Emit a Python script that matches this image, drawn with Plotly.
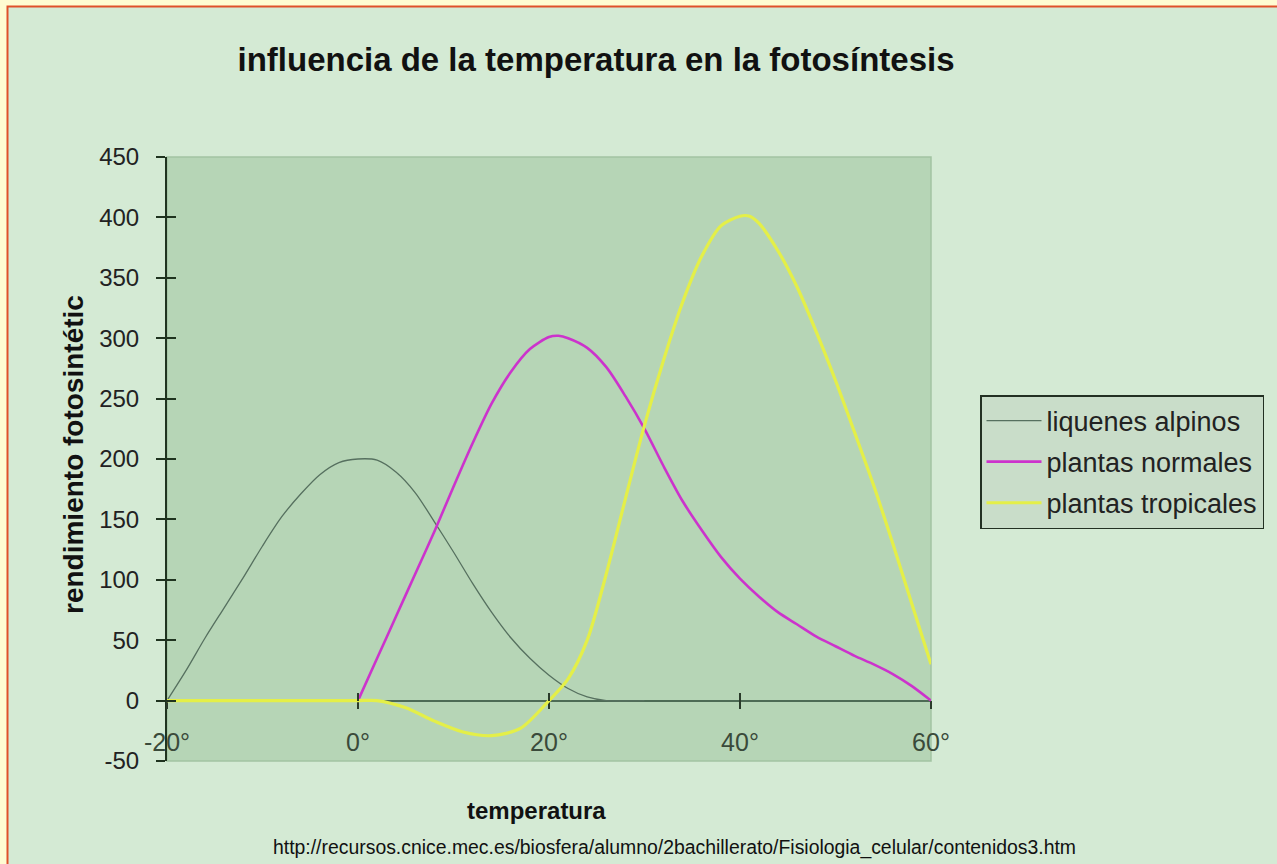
import plotly.graph_objects as go

# ---- data ----
liquenes_x = [-20, -18, -16, -14, -12, -10, -8, -6, -4, -2, 0, 2, 4, 6, 8, 10, 12, 14, 16, 18, 20, 22, 24, 26, 30]
liquenes_y = [0, 25, 52, 77, 102, 128, 152, 171, 187, 197, 200, 199, 189, 172, 148, 123, 97, 73, 52, 35, 21, 10, 3, 0, 0]

normales_x = [0, 2, 4, 6, 8, 10, 12, 14, 16, 18, 20, 21, 22, 24, 26, 28, 30, 32, 34, 36, 38, 40, 42, 44, 46, 48, 50, 52, 54, 56, 58, 60]
normales_y = [0, 35, 70, 105, 140, 177, 213, 246, 272, 291, 301, 302, 300, 292, 276, 252, 225, 194, 165, 141, 119, 101, 86, 73, 63, 53, 45, 37, 30, 22, 12, 0]

tropicales_x = [-20, -10, 0, 2, 5, 8, 11, 14, 17, 20, 22, 24, 26, 28, 30, 32, 34, 36, 38, 40, 41, 42, 44, 46, 48, 50, 52, 54, 56, 58, 60]
tropicales_y = [0, 0, 0, 0, -6, -17, -26, -29, -23, 0, 18, 50, 105, 167, 228, 282, 330, 368, 393, 401, 401, 395, 372, 342, 305, 265, 222, 178, 130, 80, 30]

series_names = ["liquenes alpinos", "plantas normales", "plantas tropicales"]
series_colors = ["#56705f", "#cc33cc", "#e4ef48"]
series_widths = [1.3, 2.6, 3.2]

x_tickvals = [-20, 0, 20, 40, 60]
x_ticktext = ["-20°", "0°", "20°", "40°", "60°"]
y_tickvals = [-50, 0, 50, 100, 150, 200, 250, 300, 350, 400, 450]
y_ticktext = ["-50", "0", "50", "100", "150", "200", "250", "300", "350", "400", "450"]
y_range = [-50, 450]
x_range = [-20, 60]

title_text = "influencia de la temperatura en la fotosíntesis"
x_title = "temperatura"
y_title = "rendimiento fotosintétic"
source_text = "http://recursos.cnice.mec.es/biosfera/alumno/2bachillerato/Fisiologia_celular/contenidos3.htm"

# ---- figure ----
W, H = 1277, 864
L, R, T, B = 167, 346, 157, 103
pw, ph = W - L - R, H - T - B


def px_x(px):
    return (px - L) / pw


def px_y(py):
    return (H - B - py) / ph


fig = go.Figure()
for xs, ys, name, col, wd in zip([liquenes_x, normales_x, tropicales_x],
                                 [liquenes_y, normales_y, tropicales_y],
                                 series_names, series_colors, series_widths):
    fig.add_trace(go.Scatter(x=xs, y=ys, name=name, mode="lines",
                             line=dict(color=col, width=wd, shape="spline", smoothing=0.8),
                             legendgroup=name))

# invisible helper trace so the overlay axes (crossing tick marks) get drawn
fig.add_trace(go.Scatter(x=[], y=[], xaxis="x2", yaxis="y2", showlegend=False, hoverinfo="skip"))

zero_pos = (0 - y_range[0]) / (y_range[1] - y_range[0])
font_main = "Liberation Sans, Arial, sans-serif"

fig.update_layout(
    width=W, height=H,
    margin=dict(l=L, r=R, t=T, b=B, autoexpand=False),
    paper_bgcolor="#fffcd2",
    plot_bgcolor="rgba(0,0,0,0)",
    showlegend=True,
    title=dict(text=title_text, x=596 / W, xref="container", xanchor="center",
               y=1 - 59 / H, yref="container", yanchor="middle",
               font=dict(family=font_main, size=33, color="#111111", weight="bold")),
    xaxis=dict(range=x_range, tickvals=x_tickvals, ticktext=x_ticktext,
               anchor="free", position=zero_pos, domain=[0, 1],
               showline=True, linecolor="#4d6b55", linewidth=1.5,
               ticks="outside", ticklen=8, tickwidth=2, tickcolor="#2a3a2a",
               tickfont=dict(family=font_main, size=25, color="#3a4a3a"),
               ticklabelstandoff=12,
               showgrid=False, zeroline=False, layer="below traces", fixedrange=True),
    xaxis2=dict(range=x_range, tickvals=x_tickvals, overlaying="x",
                anchor="free", position=zero_pos,
                ticks="inside", ticklen=8, tickwidth=2, tickcolor="#2a3a2a",
                showticklabels=False, showline=False, showgrid=False, zeroline=False),
    yaxis=dict(range=y_range, tickvals=y_tickvals, ticktext=y_ticktext,
               domain=[0, 1], anchor="x",
               showline=True, linecolor="#1f331f", linewidth=2,
               ticks="outside", ticklen=9, tickwidth=2, tickcolor="#1f331f",
               tickfont=dict(family=font_main, size=24, color="#222222"),
               ticklabelstandoff=12,
               showgrid=False, zeroline=False, layer="below traces", fixedrange=True),
    yaxis2=dict(range=y_range, tickvals=y_tickvals, overlaying="y", anchor="x", side="left",
                ticks="inside", ticklen=9, tickwidth=2, tickcolor="#1f331f",
                showticklabels=False, showline=False, showgrid=False, zeroline=False),
    legend=dict(x=px_x(980), y=px_y(395), xanchor="left", yanchor="top",
                bgcolor="#c9ddc9", bordercolor="#223022", borderwidth=1.5,
                font=dict(family=font_main, size=27, color="#222222"),
                tracegroupgap=3, itemwidth=55),
    shapes=[
        dict(type="rect", xref="paper", yref="paper",
             x0=px_x(7.5), x1=px_x(1300), y0=px_y(900), y1=px_y(6.5),
             fillcolor="#d4ead4", line=dict(color="#e0502a", width=2), layer="below"),
        dict(type="rect", xref="paper", yref="paper", x0=0, x1=1, y0=0, y1=1,
             fillcolor="#b6d5b6", line=dict(color="#a2c4a2", width=1.5), layer="below"),
    ],
    annotations=[
        dict(text=y_title, xref="paper", yref="paper", x=px_x(73), y=px_y(455),
             xanchor="center", yanchor="middle", textangle=-90, showarrow=False,
             font=dict(family=font_main, size=28, color="#111111", weight="bold")),
        dict(text=x_title, xref="paper", yref="paper", x=px_x(536), y=px_y(810),
             xanchor="center", yanchor="middle", showarrow=False,
             font=dict(family=font_main, size=24, color="#111111", weight="bold")),
        dict(text=source_text, xref="paper", yref="paper", x=px_x(674), y=px_y(848),
             xanchor="center", yanchor="middle", showarrow=False,
             font=dict(family=font_main, size=19.4, color="#111111")),
    ],
)

fig.write_html(
    "out.html",
    config={"displayModeBar": False},
    post_script=(
        "document.documentElement.style.margin='0';"
        "document.body.style.margin='0';"
        "document.body.style.overflow='hidden';"
        "document.body.style.background='#fffcd2';"
    ),
)
